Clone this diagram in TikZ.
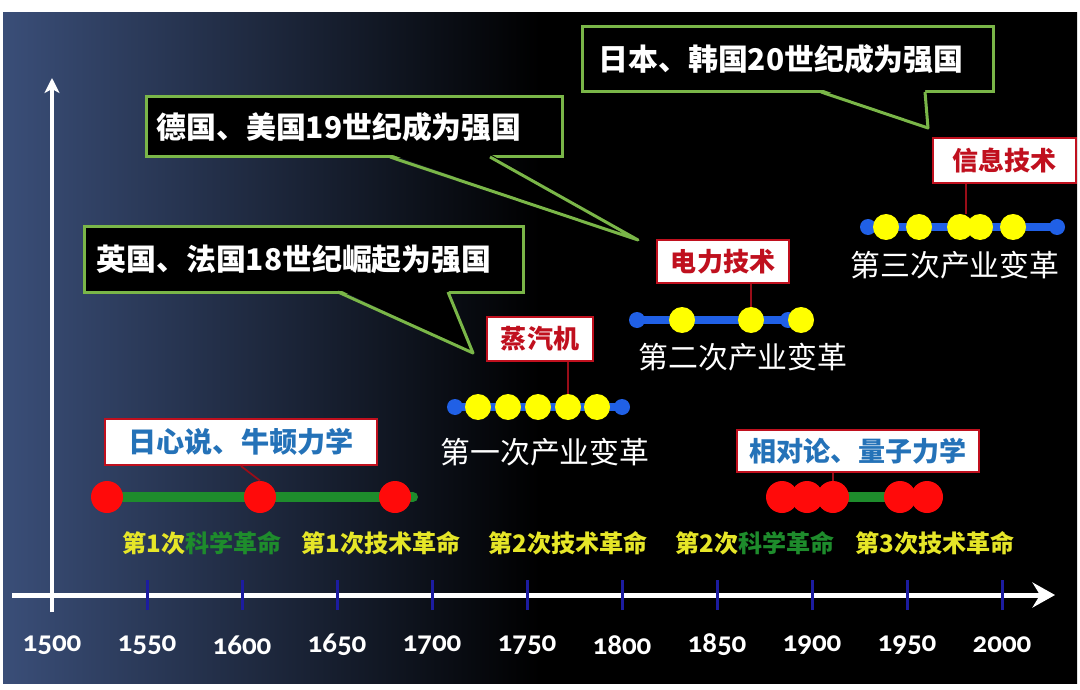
\documentclass[tikz,border=0pt]{standalone}
\usepackage{fontspec}
\setmainfont{Carlito}[Numbers=OldStyle]
\newfontfamily\cjk{Noto Sans CJK SC}
\usepackage{tikz}
\usetikzlibrary{arrows.meta, calc}
\definecolor{BgBlue}{HTML}{3A4E78}
\definecolor{FrameGreen}{HTML}{7AB648}
\definecolor{TechRed}{HTML}{C0101E}
\definecolor{SciBlue}{HTML}{2472B8}
\definecolor{DotYellow}{HTML}{FFFF00}
\definecolor{DotBlue}{HTML}{2060E6}
\definecolor{DotRed}{HTML}{FF0A0A}
\definecolor{SciGreen}{HTML}{1E8C2C}
\definecolor{LblYellow}{HTML}{E6E628}
\definecolor{TickBlue}{HTML}{1C1CA0}

\tikzset{
  callout/.style={draw=FrameGreen, line width=0.6mm, fill=black, text=white, anchor=west,
    align=left, inner ysep=0pt, font=\cjk\bfseries\fontsize{17pt}{20pt}\selectfont},
  calltail/.style={draw=FrameGreen, line width=0.6mm, line join=round},
  techbox/.style={draw=TechRed, line width=0.45mm, fill=white, text=TechRed, inner sep=0pt,
    font=\cjk\bfseries\fontsize{14.8pt}{16pt}\selectfont},
  scibox/.style={techbox, text=SciBlue, font=\cjk\bfseries\fontsize{16pt}{18pt}\selectfont},
  stem/.style={draw=TechRed!80!black, line width=0.35mm},
  ydot/.style={circle, fill=DotYellow, inner sep=0pt, minimum size=5.2mm},
  bdot/.style={circle, fill=DotBlue, inner sep=0pt, minimum size=3.2mm},
  rdot/.style={circle, fill=DotRed, inner sep=0pt, minimum size=6.4mm},
  bline/.style={DotBlue, line width=1.6mm},
  gline/.style={SciGreen, line width=2mm, line cap=round},
  stagelbl/.style={text=white, font=\cjk\fontsize{17pt}{20pt}\selectfont},
  revlbl/.style={text=LblYellow, font=\cjk\bfseries\fontsize{13.7pt}{16pt}\selectfont},
  yearlbl/.style={text=white, font=\bfseries\fontsize{16.5pt}{18pt}\selectfont}
}

\begin{document}
\begin{tikzpicture}[x=0.2mm, y=0.2mm]
  \useasboundingbox (0,0) rectangle (1080,689);
  \fill[white] (0,0) rectangle (1080,689);
  \shade[left color=BgBlue, right color=black, middle color=black] (3,6) rectangle (1077,676);

  % axes
  \draw[white, line width=1mm, -{Stealth[length=4.5mm, width=5mm, inset=1.5mm]}] (12,94) -- (1055,94);
  \draw[white, line width=0.8mm, -{Stealth[length=3mm, width=3mm, inset=0.8mm]}] (52,77) -- (52,611);
  \foreach \k in {1,...,10}
    \draw[TickBlue, line width=0.6mm] ({52+95*\k},79) -- ({52+95*\k},109);
  \foreach \yr [count=\k from 0] in {1500,1550,...,2000}
    \node[yearlbl] (yr\yr) at ({52+95*\k},44) {\yr};

  % callouts
  \node[callout, minimum height=13mm, text width=75.8mm, inner xsep=3.2mm] (cjp) at (581,629.5)
    {日本、韩国20世纪成为强国};
  \coordinate (jpa) at (821,597); \coordinate (jpb) at (925,597); \coordinate (jptip) at (928,561);
  \fill[black] ($(jpa)+(0,3)$) -- (jptip) -- ($(jpb)+(0,3)$) -- cycle;
  \draw[calltail] (jpa) -- (jptip) -- (jpb);

  \node[callout, minimum height=12mm, text width=79.2mm, inner xsep=2mm] (cde) at (145,562)
    {德国、美国19世纪成为强国};
  \coordinate (dea) at (390,532); \coordinate (deb) at (490,532); \coordinate (detip) at (638,449);
  \fill[black] ($(dea)+(0,3)$) -- (detip) -- ($(deb)+(0,3)$) -- cycle;
  \draw[calltail] (dea) -- (detip) -- (deb);

  \node[callout, minimum height=13mm, text width=83mm, inner xsep=2.4mm] (cen) at (83,429.5)
    {英国、法国18世纪崛起为强国};
  \coordinate (ena) at (338,397); \coordinate (enb) at (448,397); \coordinate (entip) at (473,336);
  \fill[black] ($(ena)+(0,3)$) -- (entip) -- ($(enb)+(0,3)$) -- cycle;
  \draw[calltail] (ena) -- (entip) -- (enb);

  % first industrial change
  \node[bdot] (i1a) at (455,282) {};
  \node[bdot] (i1b) at (622,282) {};
  \draw[bline] (i1a.center) -- (i1b.center);
  \foreach \x [count=\n] in {478,508,538,568,597}
    \node[ydot] (i1\n) at (\x,282) {};
  \node[techbox, minimum width=21.2mm, minimum height=8.8mm] (steam) at (540,350) {蒸汽机};
  \draw[stem] (i14 |- steam.south) -- (i14.north);
  \node[stagelbl] (stage1) at (545,237) {第一次产业变革};

  % second industrial change
  \node[bdot] (i2a) at (637,369) {};
  \node[bdot] (i2b) at (788,369) {};
  \draw[bline] (i2a.center) -- (i2b.center);
  \foreach \x [count=\n] in {682,751,801}
    \node[ydot] (i2\n) at (\x,369) {};
  \node[techbox, minimum width=26.4mm, minimum height=8.6mm] (power) at (723,427.5) {电力技术};
  \draw[stem] (i22 |- power.south) -- (i22.north);
  \node[stagelbl] (stage2) at (743,332) {第二次产业变革};

  % third industrial change
  \node[bdot] (i3a) at (868,462) {};
  \node[bdot] (i3b) at (1057,462) {};
  \draw[bline] (i3a.center) -- (i3b.center);
  \foreach \x [count=\n] in {886,919,960,980,1013}
    \node[ydot] (i3\n) at (\x,462) {};
  \node[techbox, minimum width=28.6mm, minimum height=9mm] (info) at (1004.5,528.5) {信息技术};
  \coordinate (infoend) at (966,475);
  \draw[stem] (infoend |- info.south) -- (infoend);
  \node[stagelbl] (stage3) at (955,424) {第三次产业变革};

  % scientific revolutions
  \coordinate (s1a) at (107,192); \coordinate (s1b) at (413,192);
  \draw[gline] (s1a) -- (s1b);
  \foreach \x [count=\n] in {107,260,395}
    \node[rdot] (r1\n) at (\x,192) {};
  \node[scibox, minimum width=54.4mm, minimum height=9.2mm] (helio) at (241,247) {日心说、牛顿力学};
  \draw[stem] (helio.south) -- (r12.north);

  \coordinate (s2a) at (833,192); \coordinate (s2b) at (900,192);
  \draw[gline, line cap=butt] (s2a) -- (s2b);
  \foreach \x [count=\n] in {782,807,833,900,927}
    \node[rdot] (r2\n) at (\x,192) {};
  \node[scibox, minimum width=48.4mm, minimum height=8.4mm,
    font=\cjk\bfseries\fontsize{15.4pt}{17pt}\selectfont] (relat) at (858,238) {相对论、量子力学};
  \draw[stem] (r23 |- relat.south) -- (r23.north);

  % revolution labels
  \node[revlbl] (lab1) at (202,146) {第1次\textcolor{SciGreen}{科学革命}};
  \node[revlbl] (lab2) at (381,146) {第1次技术革命};
  \node[revlbl] (lab3) at (568,146) {第2次技术革命};
  \node[revlbl] (lab4) at (755,146) {第2次\textcolor{SciGreen}{科学革命}};
  \node[revlbl] (lab5) at (935,146) {第3次技术革命};
\end{tikzpicture}
\end{document}
